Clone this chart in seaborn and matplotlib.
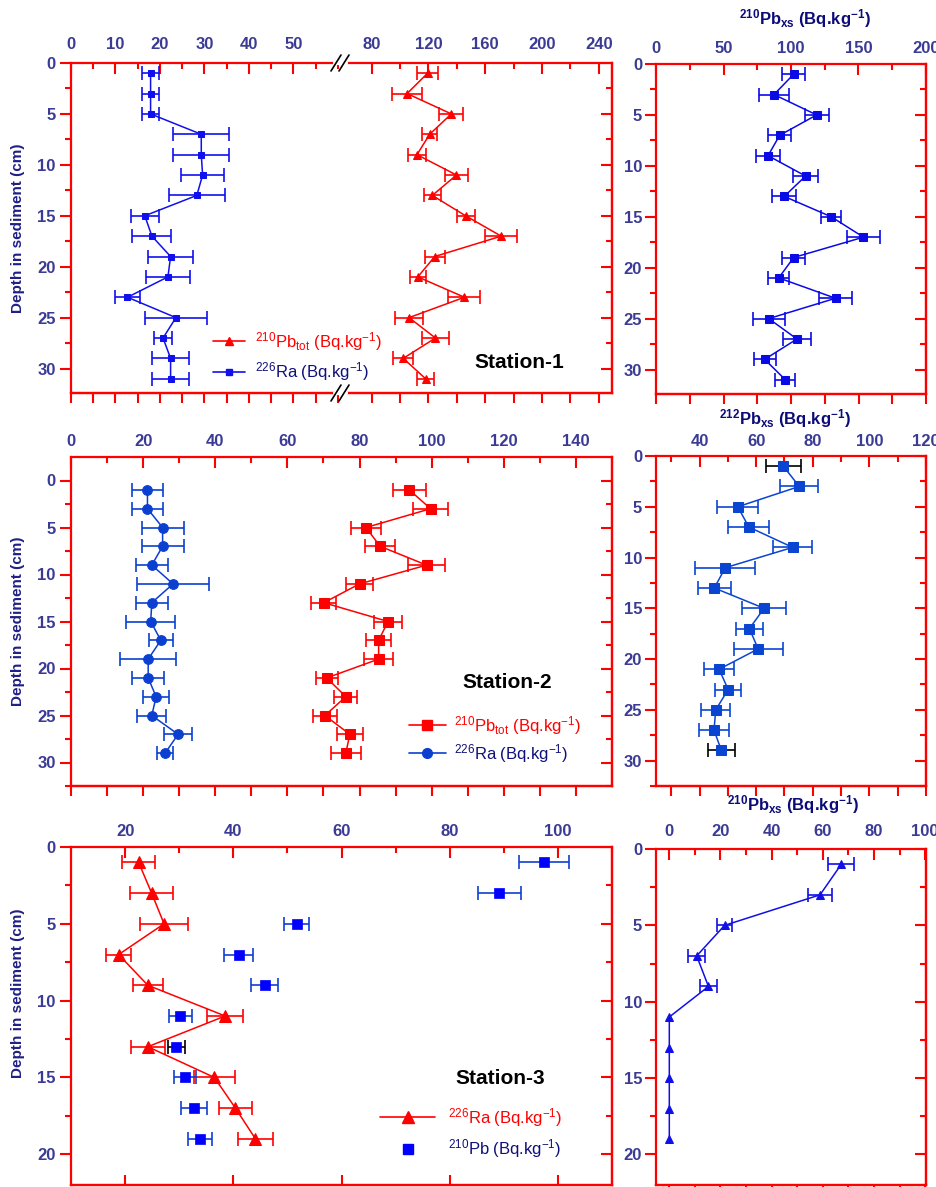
import numpy as np
import pandas as pd
import matplotlib
matplotlib.use('Agg')
import matplotlib.pyplot as plt
import seaborn as sns
from matplotlib.ticker import FixedLocator
from matplotlib.lines import Line2D

# ---------------- data ----------------
depth_s1 = [1, 3, 5, 7, 9, 11, 13, 15, 17, 19, 21, 23, 25, 27, 29, 31]
s1_ra226 = [17.9, 17.9, 17.9, 29.3, 29.3, 29.6, 28.3, 16.6, 18.2, 22.4, 21.8, 12.7, 23.6, 20.7, 22.4, 22.4]
s1_ra226_err = [2.0, 2.0, 2.0, 6.3, 6.3, 4.9, 6.3, 3.2, 4.4, 5.0, 5.0, 2.9, 6.9, 2.0, 4.1, 4.1]
s1_pb210tot = [119.5, 105.0, 136.2, 120.9, 112.0, 139.8, 122.8, 146.2, 171.3, 124.5, 112.6, 145.4, 106.4, 125.0, 102.3, 118.1]
s1_pb210tot_err = [7.6, 10.5, 8.5, 5.2, 6.3, 7.8, 6.1, 6.3, 11.1, 7.0, 5.7, 11.3, 10.0, 9.7, 7.1, 6.0]
s1_pb210xs = [102.0, 87.4, 119.0, 91.6, 83.0, 110.8, 95.0, 129.8, 153.7, 102.0, 90.9, 133.0, 83.5, 104.4, 80.5, 95.8]
s1_pb210xs_err = [8.4, 10.8, 9.0, 8.4, 9.1, 9.0, 8.9, 7.5, 12.0, 8.4, 7.9, 12.0, 12.0, 10.2, 8.1, 7.4]

depth_s2 = [1, 3, 5, 7, 9, 11, 13, 15, 17, 19, 21, 23, 25, 27, 29]
s2_ra226 = [21.2, 21.2, 25.4, 25.4, 22.4, 28.3, 22.4, 22.1, 24.9, 21.4, 21.4, 23.6, 22.4, 29.7, 26.1]
s2_ra226_err = [4.4, 4.4, 5.8, 5.8, 4.5, 10.0, 4.5, 6.8, 3.3, 7.8, 4.4, 3.6, 4.0, 3.8, 2.2]
s2_pb210tot = [93.8, 99.7, 81.8, 85.7, 98.6, 80.0, 70.1, 87.9, 85.3, 85.3, 70.9, 76.2, 70.4, 77.3, 76.2]
s2_pb210tot_err = [4.5, 4.9, 4.1, 4.2, 5.2, 3.7, 3.5, 3.9, 3.4, 4.1, 3.1, 3.2, 3.3, 3.6, 4.1]
s2_pb212xs = [69.6, 75.2, 53.5, 57.4, 72.9, 49.1, 45.2, 62.8, 57.6, 60.7, 46.9, 50.1, 45.7, 45.1, 47.7]
s2_pb212xs_err = [6.3, 6.7, 7.2, 7.3, 6.9, 10.6, 5.8, 7.7, 4.8, 8.7, 5.4, 4.7, 5.1, 5.4, 4.8]

depth_s3 = [1, 3, 5, 7, 9, 11, 13, 15, 17, 19]
s3_ra226 = [22.5, 24.9, 27.2, 18.8, 24.2, 38.5, 24.2, 36.5, 40.4, 44.1]
s3_ra226_err = [3.0, 4.0, 4.4, 2.3, 2.8, 3.3, 3.2, 3.8, 3.0, 3.2]
s3_pb210 = [97.4, 89.2, 51.7, 41.0, 45.8, 30.2, 29.5, 31.1, 32.8, 33.9]
s3_pb210_err = [4.6, 3.9, 2.3, 2.7, 2.5, 2.1, 1.5, 2.0, 2.4, 2.2]
s3_pb210xs = [67.2, 58.9, 21.6, 10.7, 15.3, 0.0, 0.0, 0.0, 0.0, 0.0]
s3_pb210xs_err = [5.0, 4.7, 3.0, 3.3, 3.2, 0.0, 0.0, 0.0, 0.0, 0.0]

# ---------------- style ----------------
sns.set_style('white')
plt.rcParams['font.family'] = ['Liberation Sans', 'DejaVu Sans']
plt.rcParams['font.weight'] = 'bold'
plt.rcParams['mathtext.default'] = 'regular'

RED = '#ff0000'
TICKC = '#3b3b95'
NAVY = '#10107a'
LABC = '#1f1f85'
W, H = 936, 1187
TS = 12  # tick label size

fig = plt.figure(figsize=(W / 100, H / 100), dpi=100)


def add_ax(x0, x1, ytop, ybot):
    return fig.add_axes([x0 / W, 1 - ybot / H, (x1 - x0) / W, (ybot - ytop) / H])


def setup(ax, xlim, ylim, xmaj, xmin, bottom_ticks, bottom_dir='out', top_pad=6,
          ymaj=None, ymin=None, left=True, right=True, ypad=3, bottom_len=7):
    ax.set_xlim(*xlim)
    ax.set_ylim(*ylim)
    for s, sp in ax.spines.items():
        sp.set_color(RED)
        sp.set_linewidth(1.6)
    if not left:
        ax.spines['left'].set_visible(False)
    if not right:
        ax.spines['right'].set_visible(False)
    ax.xaxis.set_ticks_position('top')
    ax.xaxis.set_major_locator(FixedLocator(xmaj))
    ax.xaxis.set_minor_locator(FixedLocator(xmin))
    ax.tick_params(axis='x', which='both', direction='in', color=RED, labelcolor=TICKC,
                   width=1.5, pad=top_pad, labelsize=TS)
    ax.tick_params(axis='x', which='major', length=8)
    ax.tick_params(axis='x', which='minor', length=4)
    sec = ax.secondary_xaxis('bottom')
    sec.set_xticks(bottom_ticks)
    sec.tick_params(axis='x', direction=bottom_dir, length=bottom_len, width=1.5, color=RED,
                    labelbottom=False)
    for sp in sec.spines.values():
        sp.set_color(RED)
        sp.set_linewidth(1.6)
    if ymaj is not None:
        ax.yaxis.set_major_locator(FixedLocator(ymaj))
        ax.yaxis.set_minor_locator(FixedLocator(ymin))
    if left:
        ax.yaxis.set_ticks_position('left')
        ax.tick_params(axis='y', which='both', direction='out', color=RED, labelcolor=TICKC,
                       width=1.5, pad=ypad, labelsize=TS)
        ax.tick_params(axis='y', which='major', length=8)
        ax.tick_params(axis='y', which='minor', length=4)
    else:
        ax.tick_params(axis='y', which='both', left=False, right=False, labelleft=False)
    if right:
        sr = ax.secondary_yaxis('right')
        sr.set_yticks(ymaj)
        sr.yaxis.set_minor_locator(FixedLocator(ymin))
        sr.tick_params(axis='y', which='both', direction='in', width=1.5, color=RED,
                       labelright=False)
        sr.tick_params(axis='y', which='major', length=8)
        sr.tick_params(axis='y', which='minor', length=4)
        for sp in sr.spines.values():
            sp.set_color(RED)
            sp.set_linewidth(1.6)


def series(ax, x, y, xerr, color, marker, ms, line=True, ecolor=None, black_idx=()):
    x = np.asarray(x, float)
    y = np.asarray(y, float)
    xerr = np.asarray(xerr, float)
    m = xerr > 0
    idx = np.arange(len(x))
    normal = m & ~np.isin(idx, black_idx)
    blk = m & np.isin(idx, black_idx)
    ec = ecolor or color
    ax.errorbar(x[normal], y[normal], xerr=xerr[normal], fmt='none', ecolor=ec,
                elinewidth=1.2, capsize=5, capthick=1.2, zorder=2)
    if blk.any():
        ax.errorbar(x[blk], y[blk], xerr=xerr[blk], fmt='none', ecolor='black',
                    elinewidth=1.2, capsize=5, capthick=1.2, zorder=2)
    df = pd.DataFrame({'v': x, 'd': y})
    if line:
        sns.lineplot(data=df, x='v', y='d', ax=ax, sort=False, estimator=None, color=color,
                     marker=marker, markersize=ms, markeredgecolor=color, linewidth=1.1,
                     zorder=3)
    else:
        sns.scatterplot(data=df, x='v', y='d', ax=ax, color=color, marker=marker, s=ms ** 2,
                        edgecolor=color, linewidth=0.5, zorder=3)
    ax.set_xlabel('')
    ax.set_ylabel('')


yt = [0, 5, 10, 15, 20, 25, 30]
ytm = list(np.arange(0, 32.6, 2.5))
yt3 = [0, 5, 10, 15, 20]
ytm3 = list(np.arange(0, 22.1, 2.5))
YLX = -0.085

# ---------------- Station 1 ----------------
B1 = '#1010ee'
ax1a = add_ax(71, 340, 63, 393)
ax1b = add_ax(340, 612, 63, 393)
series(ax1a, s1_ra226, depth_s1, s1_ra226_err, B1, 's', 5)
series(ax1b, s1_pb210tot, depth_s1, s1_pb210tot_err, RED, '^', 5.5)
setup(ax1a, (0, 60.5), (32.4, 0), [0, 10, 20, 30, 40, 50], list(range(0, 61, 5)),
      list(range(0, 61, 5)), top_pad=8, ymaj=yt, ymin=ytm, right=False, ypad=3)
setup(ax1b, (57.8, 249.3), (32.4, 0), [80, 120, 160, 200, 240], [100, 140, 180, 220],
      list(range(80, 241, 20)), top_pad=8, ymaj=yt, ymin=ytm, left=False)
ax1a.set_ylabel('Depth in sediment (cm)', fontsize=11, fontweight='bold', color=LABC)
ax1a.yaxis.set_label_coords(YLX * 541 / 269, 0.5)

# break marks
for yb in (63, 393):
    fig.add_artist(Line2D([335 / W, 346 / W], [1 - yb / H, 1 - yb / H], color='white',
                          lw=3, transform=fig.transFigure, zorder=10))
    for dx in (0, 8):
        fig.add_artist(Line2D([(331 + dx) / W, (341 + dx) / W],
                              [1 - (yb + 8) / H, 1 - (yb - 8) / H], color='black', lw=1.2,
                              transform=fig.transFigure, zorder=11))

ax1r = add_ax(656, 926, 64, 394)
series(ax1r, s1_pb210xs, depth_s1, s1_pb210xs_err, '#0a0ae6', 's', 5.5)
setup(ax1r, (0, 200), (32.4, 0), [0, 50, 100, 150, 200], [25, 75, 125, 175],
      [0, 25, 50, 75, 100, 125, 150, 175, 200], top_pad=6, ymaj=yt, ymin=ytm, ypad=2)

fig.text(474 / W, 1 - 362 / H, 'Station-1', fontsize=15, fontweight='bold', va='center',
         ha='left', color='black')

h1 = Line2D([], [], color=RED, marker='^', markersize=5.5, lw=1.2)
h2 = Line2D([], [], color=B1, marker='s', markersize=5, lw=1.2)
leg = fig.legend([h1, h2], [r'$^{210}$Pb$_{tot}$ (Bq.kg$^{-1}$)', r'$^{226}$Ra (Bq.kg$^{-1}$)'],
                 loc='upper left', bbox_to_anchor=(213 / W, 1 - 330 / H), frameon=False,
                 borderpad=0, borderaxespad=0, handlelength=1.9, handletextpad=0.6,
                 labelspacing=0.45, prop={'size': 12, 'weight': 'normal'})
for t, c in zip(leg.get_texts(), [RED, NAVY]):
    t.set_color(c)

# ---------------- Station 2 ----------------
B2 = '#0b3fd0'
ax2 = add_ax(71, 612, 457, 786)
series(ax2, s2_ra226, depth_s2, s2_ra226_err, B2, 'o', 7)
series(ax2, s2_pb210tot, depth_s2, s2_pb210tot_err, RED, 's', 7)
setup(ax2, (0, 150), (32.5, -2.5), list(range(0, 141, 20)), list(range(10, 151, 20)),
      list(range(0, 150, 10)), top_pad=6, ymaj=yt, ymin=ytm, ypad=3)
ax2.set_ylabel('Depth in sediment (cm)', fontsize=11, fontweight='bold', color=LABC)
ax2.yaxis.set_label_coords(YLX, 0.5)

ax2r = add_ax(656, 926, 456, 786)
series(ax2r, s2_pb212xs, depth_s2, s2_pb212xs_err, '#0a45d2', 's', 7.5, black_idx=(0, 14))
setup(ax2r, (24.6, 120), (32.5, 0), [40, 60, 80, 100, 120], [30, 50, 70, 90, 110],
      list(range(30, 121, 10)), top_pad=5, ymaj=yt, ymin=ytm, ypad=2)

fig.text(462 / W, 1 - 682 / H, 'Station-2', fontsize=15, fontweight='bold', va='center',
         ha='left', color='black')
h1 = Line2D([], [], color=RED, marker='s', markersize=7, lw=1.2)
h2 = Line2D([], [], color=B2, marker='o', markersize=7, lw=1.2)
leg = fig.legend([h1, h2], [r'$^{210}$Pb$_{tot}$ (Bq.kg$^{-1}$)', r'$^{226}$Ra (Bq.kg$^{-1}$)'],
                 loc='upper left', bbox_to_anchor=(409 / W, 1 - 714 / H), frameon=False,
                 borderpad=0, borderaxespad=0, handlelength=2.2, handletextpad=0.5,
                 labelspacing=0.3, prop={'size': 12, 'weight': 'normal'})
for t, c in zip(leg.get_texts(), [RED, NAVY]):
    t.set_color(c)

# ---------------- Station 3 ----------------
B3 = '#0000ff'
ax3 = add_ax(71, 612, 847, 1185)
series(ax3, s3_ra226, depth_s3, s3_ra226_err, RED, '^', 8)
series(ax3, s3_pb210, depth_s3, s3_pb210_err, B3, 's', 7.5, line=False, ecolor='#1040d0',
       black_idx=(6,))
setup(ax3, (10, 110), (22, 0), [20, 40, 60, 80, 100], [30, 50, 70, 90, 110],
      [20, 40, 60, 80, 100], bottom_dir='in', top_pad=6, ymaj=yt3, ymin=ytm3, ypad=3)
ax3.set_ylabel('Depth in sediment (cm)', fontsize=11, fontweight='bold', color=LABC)
ax3.yaxis.set_label_coords(YLX, 0.568)

ax3r = add_ax(656, 926, 849, 1185)
series(ax3r, s3_pb210xs, depth_s3, s3_pb210xs_err, '#1010e6', '^', 6)
setup(ax3r, (-5.2, 100.3), (22, 0), [0, 20, 40, 60, 80, 100], list(range(10, 101, 20)),
      list(range(0, 101, 10)), top_pad=7, ymaj=yt3, ymin=ytm3, ypad=2)

fig.text(455 / W, 1 - 1078 / H, 'Station-3', fontsize=15, fontweight='bold', va='center',
         ha='left', color='black')
h1 = Line2D([], [], color=RED, marker='^', markersize=8, lw=1.2)
h2 = Line2D([], [], color=B3, marker='s', markersize=7.5, lw=0)
leg = fig.legend([h1, h2], [r'$^{226}$Ra (Bq.kg$^{-1}$)', r'$^{210}$Pb (Bq.kg$^{-1}$)'],
                 loc='upper left', bbox_to_anchor=(380 / W, 1 - 1106 / H), frameon=False,
                 borderpad=0, borderaxespad=0, handlelength=3.3, handletextpad=0.8,
                 labelspacing=0.5, prop={'size': 12, 'weight': 'normal'})
for t, c in zip(leg.get_texts(), [RED, NAVY]):
    t.set_color(c)

# ---------------- right-panel titles ----------------
TC = '#0c0c78'
fig.text(805 / W, 1 - 19 / H, r'$^{210}$Pb$_{xs}$ (Bq.kg$^{-1}$)', ha='center', va='center',
         fontsize=12, fontweight='bold', color=TC)
fig.text(785 / W, 1 - 419 / H, r'$^{212}$Pb$_{xs}$ (Bq.kg$^{-1}$)', ha='center', va='center',
         fontsize=12, fontweight='bold', color=TC)
fig.text(793 / W, 1 - 805 / H, r'$^{210}$Pb$_{xs}$ (Bq.kg$^{-1}$)', ha='center', va='center',
         fontsize=12, fontweight='bold', color=TC)

fig.savefig('out.png', dpi=100)
